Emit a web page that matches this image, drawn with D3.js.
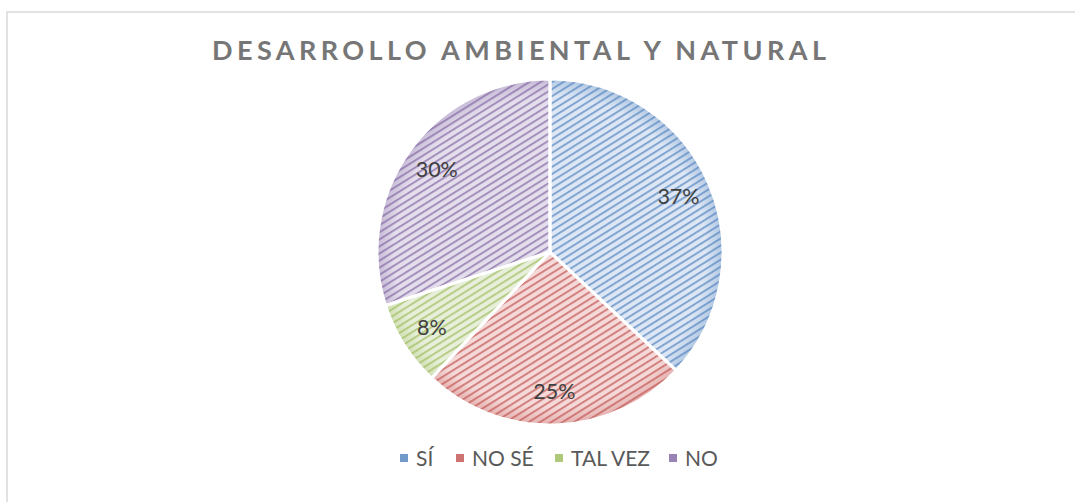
<!DOCTYPE html>
<html>
<head>
<meta charset="utf-8">
<script src="https://cdn.jsdelivr.net/npm/d3@7"></script>
<style>
	html, body { margin: 0; padding: 0; background: #fff; }
	svg { display: block; }
</style>
</head>
<body>
<div class="c-svg"></div>
<script>
//DATA
//-------------------------------------------------------------------------
const categories = ["SÍ", "NO SÉ", "TAL VEZ", "NO"];
const values = [37, 25, 8, 30];
const chartTitle = "DESARROLLO AMBIENTAL Y NATURAL";

//colours : light background + stripe colour per slice
const baseColors = ["#4f81bd", "#c0504d", "#9bbb59", "#8064a2"];
const lightColors = ["#dce6f4", "#f4d9d8", "#e7efda", "#e4deec"];

//opts for svg
const opts = {
	width: 1075,
	height: 502,
	cx: 550,
	cy: 252,
	radius: 173,
	labelRadius: 140
};

const svg = d3.select(".c-svg")
	.append("svg")
	.attr("width", opts.width)
	.attr("height", opts.height);

const defs = svg.append("defs");

//stripe patterns
baseColors.forEach((c, i) => {
	const p = defs.append("pattern")
		.attr("id", "stripe" + i)
		.attr("patternUnits", "userSpaceOnUse")
		.attr("width", 6)
		.attr("height", 6)
		.attr("patternTransform", "rotate(-32)");
	p.append("rect")
		.attr("width", 6).attr("height", 6)
		.attr("fill", lightColors[i]);
	p.append("rect")
		.attr("y", 0)
		.attr("width", 6).attr("height", 1.8)
		.attr("fill", c)
		.attr("opacity", 0.7);
});

//edge shading
baseColors.forEach((c, i) => {
	const g = defs.append("radialGradient")
		.attr("id", "shade" + i)
		.attr("gradientUnits", "userSpaceOnUse")
		.attr("cx", 0).attr("cy", 0).attr("r", opts.radius);
	g.append("stop").attr("offset", "0.9").attr("stop-color", c).attr("stop-opacity", 0);
	g.append("stop").attr("offset", "1").attr("stop-color", c).attr("stop-opacity", 0.3);
});

//frame
svg.append("path")
	.attr("d", `M7,${opts.height + 5} V12 H${opts.width + 5}`)
	.attr("fill", "none")
	.attr("stroke", "#d9d9d9")
	.attr("stroke-width", 1.5);

//title
svg.append("text")
	.attr("x", 519)
	.attr("y", 60)
	.attr("text-anchor", "middle")
	.attr("font-family", "Lato, 'Open Sans', sans-serif")
	.attr("font-weight", "bold")
	.attr("font-size", 27)
	.attr("fill", "#767676")
	.attr("textLength", 614)
	.attr("lengthAdjust", "spacing")
	.text(chartTitle);

//PIE
//-------------------------------------------------------------------------
const pie = d3.pie().sort(null).value(d => d);
const arcs = pie(values);

const arc = d3.arc().innerRadius(0).outerRadius(opts.radius);
const labelArc = d3.arc().innerRadius(opts.labelRadius).outerRadius(opts.labelRadius);

const g = svg.append("g")
	.attr("transform", `translate(${opts.cx} ${opts.cy})`);

g.selectAll("path.slice")
	.data(arcs)
	.join("path")
	.attr("class", "slice")
	.attr("d", arc)
	.attr("fill", (d, i) => `url(#stripe${i})`);

g.selectAll("path.shade")
	.data(arcs)
	.join("path")
	.attr("class", "shade")
	.attr("d", arc)
	.attr("fill", (d, i) => `url(#shade${i})`)
	.attr("stroke", "#fff")
	.attr("stroke-width", 3)
	.attr("stroke-linejoin", "round");

g.selectAll("text.lbl")
	.data(arcs)
	.join("text")
	.attr("class", "lbl")
	.attr("x", d => labelArc.centroid(d)[0])
	.attr("y", d => labelArc.centroid(d)[1])
	.attr("dy", "0.35em")
	.attr("text-anchor", "middle")
	.attr("font-family", "Lato, 'Open Sans', sans-serif")
	.attr("font-size", 21.5)
	.attr("fill", "#404040")
	.text(d => d.data + "%");

//LEGEND
//-------------------------------------------------------------------------
const legendX = [400, 456, 555, 669];
const legend = svg.append("g");

categories.forEach((name, i) => {
	legend.append("rect")
		.attr("x", legendX[i])
		.attr("y", 454)
		.attr("width", 8)
		.attr("height", 8)
		.attr("fill", baseColors[i])
		.attr("opacity", 0.8);
	legend.append("text")
		.attr("x", legendX[i] + 16)
		.attr("y", 466)
		.attr("font-family", "Lato, 'Open Sans', sans-serif")
		.attr("font-size", 21)
		.attr("fill", "#595959")
		.text(name);
});
</script>
</body>
</html>
